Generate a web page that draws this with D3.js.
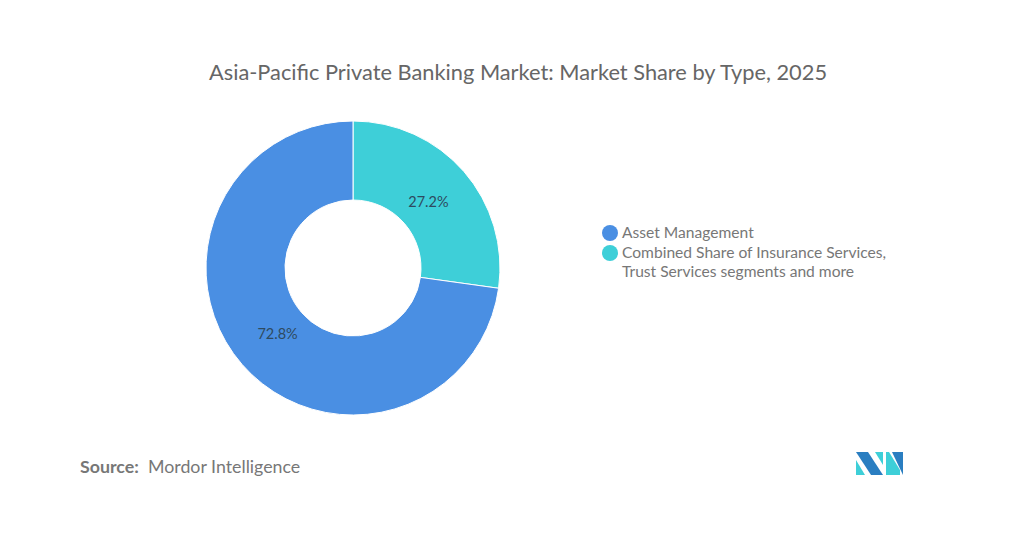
<!DOCTYPE html>
<html>
<head>
<meta charset="utf-8">
<script src="https://cdn.jsdelivr.net/npm/d3@7"></script>
<style>
  html, body { margin: 0; padding: 0; background: #fff; }
  svg { display: block; font-family: Lato, "Open Sans", sans-serif; }
</style>
</head>
<body>
<svg id="chart" width="1024" height="538"></svg>
<script>
// chart data
var categories = ["Combined Share of Insurance Services, Trust Services segments and more", "Asset Management"];
var shares = [27.2, 72.8];
var sliceColors = ["#3ecfd8", "#4a8fe3"];
var legendOrder = ["Asset Management", "Combined Share of Insurance Services, Trust Services segments and more"];
var legendLines = [["Asset Management"], ["Combined Share of Insurance Services,", "Trust Services segments and more"]];

var svg = d3.select("#chart");

svg.append("text")
    .attr("x", 518)
    .attr("y", 80)
    .attr("text-anchor", "middle")
    .attr("fill", "#666")
    .style("font-size", "21.8px")
    .text("Asia-Pacific Private Banking Market: Market Share by Type, 2025");

var cx = 353, cy = 268;
var outerR = 147, innerR = 68, labelR = 100;

var color = d3.scaleOrdinal().domain(categories).range(sliceColors);

var pie = d3.pie().sort(null).value(function(d) { return d; });
var arcs = pie(shares);

var arc = d3.arc().innerRadius(innerR).outerRadius(outerR);
var labelArc = d3.arc().innerRadius(labelR).outerRadius(labelR);

var g = svg.append("g").attr("transform", "translate(" + cx + "," + cy + ")");

g.selectAll("path.slice")
    .data(arcs)
    .enter().append("path")
    .attr("class", "slice")
    .attr("d", arc)
    .attr("fill", function(d, i) { return color(categories[i]); })
    .attr("stroke", "#fff")
    .attr("stroke-width", 1);

g.selectAll("text.pct")
    .data(arcs)
    .enter().append("text")
    .attr("class", "pct")
    .attr("transform", function(d) { return "translate(" + labelArc.centroid(d) + ")"; })
    .attr("text-anchor", "middle")
    .attr("dy", "0.35em")
    .attr("fill", "#2e4a60")
    .style("font-size", "14.5px")
    .text(function(d) { return d.data.toFixed(1) + "%"; });

// legend
var legend = svg.append("g").attr("transform", "translate(610,233)");
var item = legend.selectAll("g.item")
    .data(legendOrder)
    .enter().append("g")
    .attr("class", "item")
    .attr("transform", function(d, i) { return "translate(0," + (i * 20) + ")"; });

item.append("circle")
    .attr("r", 8)
    .attr("fill", function(d) { return color(d); });

item.append("text")
    .attr("x", 12)
    .attr("fill", "#777")
    .style("font-size", "15.6px")
    .selectAll("tspan")
    .data(function(d, i) { return legendLines[i]; })
    .enter().append("tspan")
    .attr("x", 12)
    .attr("y", function(d, i) { return 5 + i * 19; })
    .text(function(d) { return d; });

// source
var src = svg.append("text")
    .attr("x", 80)
    .attr("y", 473)
    .attr("fill", "#777")
    .style("font-size", "17.8px");
src.append("tspan").style("font-weight", "bold").text("Source:");
src.append("tspan").text("\u00a0 Mordor Intelligence");

// logo
var logo = svg.append("g").attr("transform", "translate(856,452)");
logo.append("polygon").attr("points", "0,8 0,23 9,23").attr("fill", "#3ecfd8");
logo.append("polygon").attr("points", "0,0 12,0 27,23 15,23").attr("fill", "#2a7ec1");
logo.append("polygon").attr("points", "19,0 27,0 27,13").attr("fill", "#3ecfd8");
logo.append("polygon").attr("points", "30,0 33,0 44,18 44,23 30,23").attr("fill", "#3ecfd8");
logo.append("polygon").attr("points", "36,0 47,0 47,23").attr("fill", "#2a7ec1");
</script>
</body>
</html>
